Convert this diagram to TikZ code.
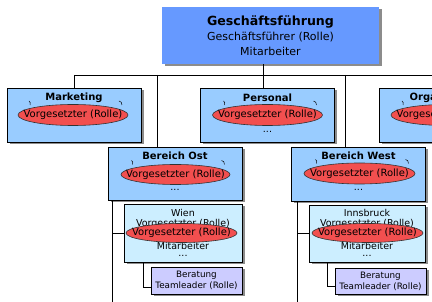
\documentclass[tikz,border=0pt]{standalone}
\usepackage{fontspec}
\setmainfont{DejaVu Sans}
\usetikzlibrary{shapes.geometric,shadows}
\definecolor{topblue}{HTML}{6699FF}
\definecolor{lvlblue}{HTML}{99CCFF}
\definecolor{subblue}{HTML}{CCEEFF}
\definecolor{teamviolet}{HTML}{CCCCFF}
\definecolor{rolered}{HTML}{F24F4F}
\definecolor{shadowgray}{HTML}{8C8C8C}
\begin{document}
\begin{tikzpicture}[x=1pt,y=-1pt,
  shd/.style={drop shadow={shadow xshift=2.5pt,shadow yshift=-2.5pt,fill=shadowgray,opacity=1}},
  topbox/.style={fill=topblue,shd,inner sep=0pt,minimum width=217pt,minimum height=57pt},
  lvlbox/.style={draw=black,line width=0.8pt,fill=lvlblue,shd,inner sep=0pt,minimum width=134pt,minimum height=54pt},
  subbox/.style={draw=black,line width=0.8pt,fill=subblue,shd,inner sep=0pt,minimum width=117pt,minimum height=57pt},
  teambox/.style={draw=black,line width=0.8pt,fill=teamviolet,shd,inner sep=0pt,minimum width=91pt,minimum height=26pt,align=center,font=\fontsize{8.8}{11}\selectfont},
  role/.style={ellipse,draw=black!80,line width=0.6pt,fill=rolered,inner sep=0pt,minimum width=110pt,minimum height=21pt,
    label={[inner sep=0pt,font=\fontsize{10}{12}\selectfont]center:Vorgesetzter (Rolle)}},
  ttl/.style={font=\bfseries\fontsize{10}{12}\selectfont,inner sep=0pt},
  txt/.style={font=\fontsize{9.5}{11}\selectfont,inner sep=0pt},
  conn/.style={draw=black,line width=0.8pt},
  tick/.style={draw=black,line width=0.5pt}
]
\useasboundingbox (0,0) rectangle (432,302);
\clip (0,0) rectangle (432,302);
\fill[white] (0,0) rectangle (432,302);

% junction coordinates
\coordinate (j0) at (263,75);
\coordinate (busL) at (74,75);
\coordinate (busR) at (440,75);
\coordinate (jOst) at (157,75);
\coordinate (jWest) at (345,75);
\coordinate (ostS) at (112,310);
\coordinate (westS) at (297,310);
\coordinate (wb) at (143,287);
\coordinate (ib) at (327,286);

% boxes
\node[topbox] (gf) at (270.5,35.5) {};
\node[inner sep=0pt,font=\bfseries\fontsize{12.6}{14}\selectfont] (gft) at (270.5,22) {Geschäftsführung};
\node[inner sep=0pt,font=\fontsize{11}{13}\selectfont] (gfr) at (270.5,37) {Geschäftsführer (Rolle)};
\node[inner sep=0pt,font=\fontsize{11}{13}\selectfont] (gfm) at (270.5,51) {Mitarbeiter};

\node[lvlbox] (mkt) at (74,115) {};
\node[lvlbox] (pers) at (267.5,115) {};
\node[lvlbox] (org) at (446,115) {};
\node[lvlbox,minimum height=53pt] (ost) at (175,173.5) {};
\node[lvlbox] (west) at (358.5,174) {};
\node[subbox,minimum width=118pt,minimum height=58pt] (wien) at (183,233) {};
\node[subbox,minimum width=116pt] (ibk) at (367,233.5) {};
\node[teambox,minimum height=27pt] (berW) at (196.5,280.5) {Beratung\\Teamleader (Rolle)};
\node[teambox] (berI) at (380.5,281) {Beratung\\Teamleader (Rolle)};

% connectors
\draw[conn] (gf.south -| j0) -- (j0);
\draw[conn] (busL) -- (busR);
\draw[conn] (busL) -- (mkt.north);
\draw[conn] (j0) -- (j0 |- pers.north);
\draw[conn] (jOst) -- (jOst |- ost.north);
\draw[conn] (jWest) -- (jWest |- west.north);
\draw[conn] (org.north |- busL) -- (org.north);
\draw[conn] (ost.south -| ostS) -- (ostS);
\draw[conn] (ostS |- wien.west) -- (wien.west);
\draw[conn] (west.south -| westS) -- (westS);
\draw[conn] (westS |- ibk.west) -- (ibk.west);
\draw[conn] (wien.south -| wb) -- (wb) -- (berW.west |- wb);
\draw[conn] (ibk.south -| ib) -- (ib) -- (berI.west |- ib);

% titles
\node[ttl] (mktt) at (74,98) {Marketing};
\node[ttl] (perst) at (267.5,98) {Personal};
\node[ttl] (orgt) at (446,98) {Organisation};
\node[ttl] (ostt) at (175,156) {Bereich Ost};
\node[ttl] (westt) at (358.5,156) {Bereich West};
\node[txt] (persd) at (267.5,132) {...};
\node[txt] (orgd) at (446,132) {...};
\node[txt] (ostd) at (175,190) {...};
\node[txt] (westd) at (358.5,190) {...};

% sub box texts
\node[txt] (wient) at (183,213) {Wien};
\node[txt] (wienv) at (183,224) {Vorgesetzter (Rolle)};
\node[txt] (wienm) at (183,245.5) {Mitarbeiter};
\node[txt] (wiend) at (183,256) {...};
\node[txt] (ibkt) at (367,213) {Innsbruck};
\node[txt] (ibkv) at (367,224) {Vorgesetzter (Rolle)};
\node[txt] (ibkm) at (367,245.5) {Mitarbeiter};
\node[txt] (ibkd) at (367,256) {...};

% role ellipses
\foreach \p in {(73,115),(267.5,115),(446,115),(175.5,174.5),(359.5,173.5)}{
  \draw[tick] \p ++(-44,-14) .. controls +(2,1) and +(0,-2) .. ++(1,4);
  \draw[tick] \p ++(46,-14) .. controls +(2,0) and +(0,-2) .. ++(3,4);
}
\node[role] (mkte) at (73,115) {};
\node[role] (perse) at (267.5,115) {};
\node[role] (orge) at (446,115) {};
\node[role,minimum width=109pt,minimum height=20pt] (oste) at (175.5,174.5) {};
\node[role,minimum width=111pt] (weste) at (359.5,173.5) {};
\node[role,minimum width=111pt,minimum height=19pt] (wiene) at (181.5,233) {};
\node[role,minimum width=111pt,minimum height=19pt] (ibke) at (367.5,233) {};
\end{tikzpicture}
\end{document}
